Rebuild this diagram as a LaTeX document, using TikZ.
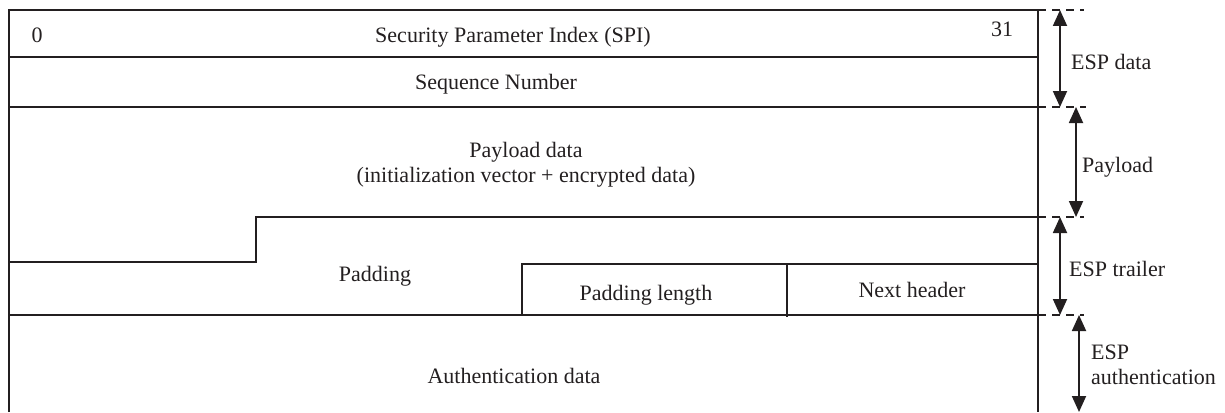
\documentclass[tikz,border=0pt]{standalone}
\usepackage{fontspec}
\setmainfont{Liberation Serif}
\usetikzlibrary{arrows.meta}
\definecolor{ink}{HTML}{231F20}
\tikzset{
  frame/.style={draw=ink, line width=1.8pt},
  txt/.style={text=ink, font=\fontsize{22}{25}\selectfont, inner sep=0pt, anchor=base},
  lbl/.style={txt, anchor=base west},
  guide/.style={draw=ink, line width=1.6pt, dash pattern=on 8pt off 6pt},
  span/.style={draw=ink, line width=1.8pt, {Triangle[width=14pt,length=16pt]}-{Triangle[width=14pt,length=16pt]}}
}
\begin{document}
\begin{tikzpicture}[x=1pt,y=-1pt]
\useasboundingbox (0,0) rectangle (1225,412);
% frame
\draw[frame] (9,412) -- (9,10) -- (1038,10) -- (1038,412);
\draw[frame] (9,57) -- (1038,57);
\draw[frame] (9,107) -- (1038,107);
\draw[frame] (9,262) -- (256,262) -- (256,217) -- (1038,217);
\draw[frame] (522,315) -- (522,264) -- (1038,264);
\draw[frame] (787,264) -- (787,317);
\draw[frame] (9,315) -- (1038,315);
% texts
\node[txt] (z) at (37,43) {0};
\node[txt] (spi) at (513,43) {Security Parameter Index (SPI)};
\node[txt] (t31) at (1002,37) {31};
\node[txt] (seq) at (496,89) {Sequence Number};
\node[txt, align=center, anchor=center] (pay) at (526,165) {Payload data\\(initialization vector + encrypted data)};
\node[txt] (pad) at (375,281) {Padding};
\node[txt] (plen) at (646,300) {Padding length};
\node[txt] (nh) at (912,297) {Next header};
\node[txt] (auth) at (514,383) {Authentication data};
% guides
\coordinate (g0a) at (1038,10);  \coordinate (g0b) at (1084,10);
\coordinate (g1a) at (1038,107); \coordinate (g1b) at (1086,107);
\coordinate (g2a) at (1038,217); \coordinate (g2b) at (1084,217);
\coordinate (g3a) at (1038,315); \coordinate (g3b) at (1084,315);
\draw[guide] (g0a) -- (g0b);
\draw[guide] (g1a) -- (g1b);
\draw[guide] (g2a) -- (g2b);
\draw[guide] (g3a) -- (g3b);
% spans
\coordinate (a1) at (1060,10);  \coordinate (a2) at (1060,107);
\coordinate (b1) at (1076,107); \coordinate (b2) at (1076,217);
\coordinate (c1) at (1060,217); \coordinate (c2) at (1060,315);
\coordinate (d1) at (1079,315); \coordinate (d2) at (1079,412);
\draw[span] (a1) -- (a2);
\draw[span] (b1) -- (b2);
\draw[span] (c1) -- (c2);
\draw[span] (d1) -- (d2);
\node[lbl] (l1) at (1071,70) {ESP data};
\node[lbl] (l2) at (1082,172) {Payload};
\node[lbl] (l3) at (1069,276) {ESP trailer};
\node[lbl, align=left, anchor=north west] (l4) at (1091,345) {ESP\\authentication};
\end{tikzpicture}
\end{document}
